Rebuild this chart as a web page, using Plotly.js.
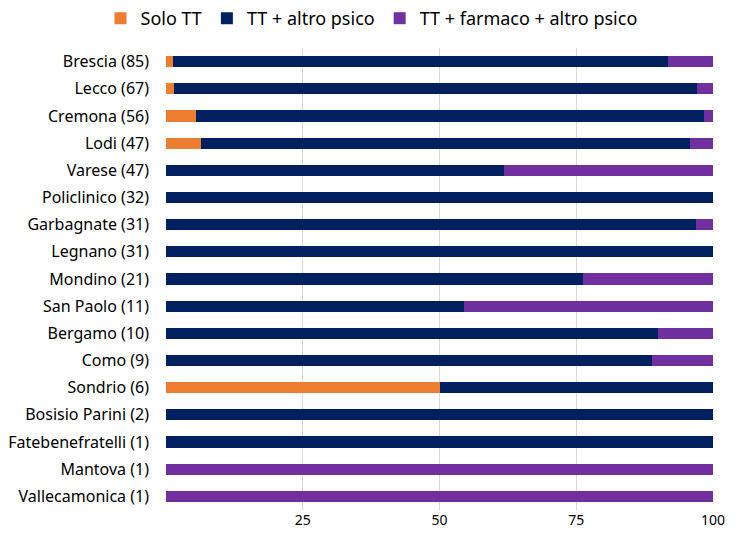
<!DOCTYPE html>
<html>
<head>
<meta charset="utf-8">
<script src="https://cdn.plot.ly/plotly-3.0.1.min.js"></script>
<style>
  html, body { margin: 0; padding: 0; background: #fff; }
  #chart { width: 743px; height: 540px; }
</style>
</head>
<body>
<div id="chart"></div>
<script>
// centri (n pazienti) e percentuali per tipo di trattamento
const centri = [
  'Brescia (85)', 'Lecco (67)', 'Cremona (56)', 'Lodi (47)', 'Varese (47)',
  'Policlinico (32)', 'Garbagnate (31)', 'Legnano (31)', 'Mondino (21)',
  'San Paolo (11)', 'Bergamo (10)', 'Como (9)', 'Sondrio (6)',
  'Bosisio Parini (2)', 'Fatebenefratelli (1)', 'Mantova (1)', 'Vallecamonica (1)'
];
const soloTT =        [1.2, 1.5, 5.4, 6.4, 0, 0, 0, 0, 0, 0, 0, 0, 50, 0, 0, 0, 0];
const ttAltroPsico =  [90.6, 95.5, 92.9, 89.4, 61.7, 100, 96.8, 100, 76.2, 54.5, 90, 88.9, 50, 100, 100, 0, 0];
const ttFarmaco =     [8.2, 3.0, 1.8, 4.3, 38.3, 0, 3.2, 0, 23.8, 45.5, 10, 11.1, 0, 0, 0, 100, 100];
const xTicks = [0, 25, 50, 75, 100];
const xTickText = ['', '25', '50', '75', '100'];

const fontFam = "'Noto Sans', sans-serif";

function serie(name, vals, color) {
  return {
    type: 'bar',
    orientation: 'h',
    name: name,
    y: centri,
    x: vals,
    marker: { color: color, line: { width: 0 } },
    hoverinfo: 'x+y+name'
  };
}

const data = [
  serie('Solo TT', soloTT, '#ED7D31'),
  serie('TT + altro psico', ttAltroPsico, '#002060'),
  serie('TT + farmaco + altro psico', ttFarmaco, '#7030A0')
];

const layout = {
  barmode: 'stack',
  bargap: 0.59,
  font: { family: fontFam, size: 16, color: '#000' },
  paper_bgcolor: '#fff',
  plot_bgcolor: '#fff',
  margin: { l: 166, r: 30, t: 48, b: 30 },
  showlegend: true,
  legend: {
    orientation: 'h',
    xref: 'container',
    yref: 'container',
    x: 0.5,
    xanchor: 'center',
    y: 1,
    yanchor: 'top',
    font: { size: 18 },
    traceorder: 'normal'
  },
  xaxis: {
    range: [0, 100],
    tickvals: xTicks,
    ticktext: xTickText,
    showgrid: true,
    gridcolor: '#d9d9d9',
    zeroline: false,
    showline: false,
    ticks: '',
    tickfont: { size: 14 },
    fixedrange: true
  },
  yaxis: {
    autorange: 'reversed',
    showgrid: false,
    ticks: '',
    ticklabelstandoff: 16,
    tickfont: { size: 16 },
    fixedrange: true
  }
};

Plotly.newPlot('chart', data, layout, { displayModeBar: false, staticPlot: true });
</script>
</body>
</html>
